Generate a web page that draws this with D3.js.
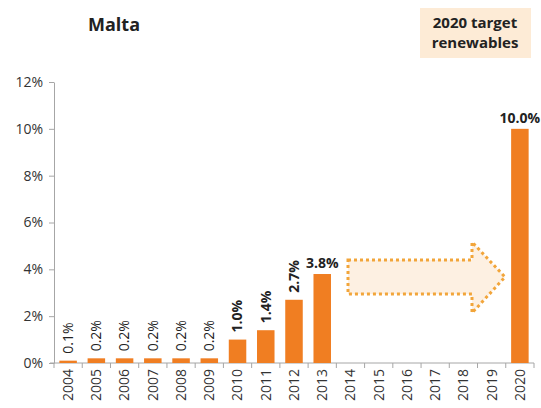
<!DOCTYPE html>
<meta charset="utf-8">
<style>
  body { margin: 0; background: #fff; }
  text { font-family: "Open Sans", "Liberation Sans", sans-serif; fill: #222; }
  .axis path, .axis line { stroke: #a6a6a6; }
  .axis text { font-size: 14px; fill: #333; }
</style>
<body>
<script src="https://d3js.org/d3.v7.min.js"></script>
<script>
var years = ["2004","2005","2006","2007","2008","2009","2010","2011","2012","2013","2014","2015","2016","2017","2018","2019","2020"];
var shares = [0.1, 0.2, 0.2, 0.2, 0.2, 0.2, 1.0, 1.4, 2.7, 3.8, null, null, null, null, null, null, 10.0];
var yTicks = [0, 2, 4, 6, 8, 10, 12];
var title = "Malta";
var targetText = ["2020 target", "renewables"];

var width = 541, height = 408;
var margin = {top: 82, right: 7, bottom: 45, left: 54};

var svg = d3.select("body").append("svg")
  .attr("width", width)
  .attr("height", height);

var x = d3.scaleBand()
  .domain(years)
  .range([margin.left, width - margin.right])
  .paddingInner(0.38)
  .paddingOuter(0.19);

var y = d3.scaleLinear()
  .domain([0, 12])
  .range([height - margin.bottom, margin.top]);

// title
svg.append("text")
  .attr("x", 114).attr("y", 31)
  .attr("text-anchor", "middle")
  .style("font-size", "18px").style("font-weight", "bold")
  .text(title);

// target box
svg.append("rect")
  .attr("x", 420).attr("y", 8).attr("width", 111).attr("height", 50)
  .attr("fill", "#fdebd6");
svg.selectAll(".tt").data(targetText).enter().append("text")
  .attr("x", 475).attr("y", function(d, i) { return 28 + i * 20; })
  .attr("text-anchor", "middle")
  .style("font-size", "15px").style("font-weight", "bold")
  .text(function(d) { return d; });

// y axis
svg.append("g")
  .attr("class", "axis")
  .attr("transform", "translate(" + margin.left + ",0)")
  .call(d3.axisLeft(y).tickValues(yTicks).tickSize(5).tickSizeOuter(0).tickPadding(6)
    .tickFormat(function(d) { return d + "%"; }));

// x axis
var xAxis = svg.append("g")
  .attr("class", "axis")
  .attr("transform", "translate(0," + y(0) + ")")
  .call(d3.axisBottom(x).tickSize(0).tickSizeOuter(0).tickPadding(0));
xAxis.select(".domain").attr("d", "M" + (margin.left - 4) + ",0H" + (width - margin.right));
// boundary ticks between categories
xAxis.selectAll(".sep").data(d3.range(years.length + 1)).enter().append("line")
  .attr("class", "sep")
  .attr("x1", function(i) { return margin.left + i * x.step(); })
  .attr("x2", function(i) { return margin.left + i * x.step(); })
  .attr("y1", 0).attr("y2", 5)
  .attr("stroke", "#a6a6a6");
xAxis.selectAll(".tick text")
  .attr("transform", "rotate(-90)")
  .attr("text-anchor", "end")
  .attr("x", -6).attr("y", 0)
  .attr("dy", "0.35em");

// arrow
var ax0 = 348, ax1 = 472, atip = 505, ay = 277;
var arrow = [[ax0, ay - 17], [ax1, ay - 17], [ax1, ay - 35], [atip, ay], [ax1, ay + 36], [ax1, ay + 17], [ax0, ay + 17]];
svg.append("path")
  .attr("d", d3.line()(arrow) + "Z")
  .attr("fill", "#fdf0e2")
  .attr("stroke", "#f2a53a")
  .attr("stroke-width", 3)
  .attr("stroke-dasharray", "3,3");

var data = years.map(function(d, i) { return {year: d, v: shares[i]}; })
  .filter(function(d) { return d.v !== null; });

// bars
svg.selectAll(".bar").data(data).enter().append("rect")
  .attr("class", "bar")
  .attr("x", function(d) { return x(d.year); })
  .attr("width", x.bandwidth())
  .attr("y", function(d) { return y(d.v); })
  .attr("height", function(d) { return y(0) - y(d.v); })
  .attr("fill", "#f07e22");

// labels
var horiz = ["2013", "2020"];
svg.selectAll(".lbl").data(data).enter().append("text")
  .attr("class", "lbl")
  .style("font-size", "14px")
  .style("font-weight", function(d) { return d.v >= 1 ? "bold" : "normal"; })
  .attr("transform", function(d) {
    var cx = x(d.year) + x.bandwidth() / 2;
    if (horiz.indexOf(d.year) >= 0) return "translate(" + cx + "," + (y(d.v) - 6) + ")";
    return "translate(" + cx + "," + (y(d.v) - 7) + ") rotate(-90)";
  })
  .attr("text-anchor", function(d) { return horiz.indexOf(d.year) >= 0 ? "middle" : "start"; })
  .attr("dy", function(d) { return horiz.indexOf(d.year) >= 0 ? 0 : "0.35em"; })
  .text(function(d) { return d.v.toFixed(1) + "%"; });
</script>
</body>
